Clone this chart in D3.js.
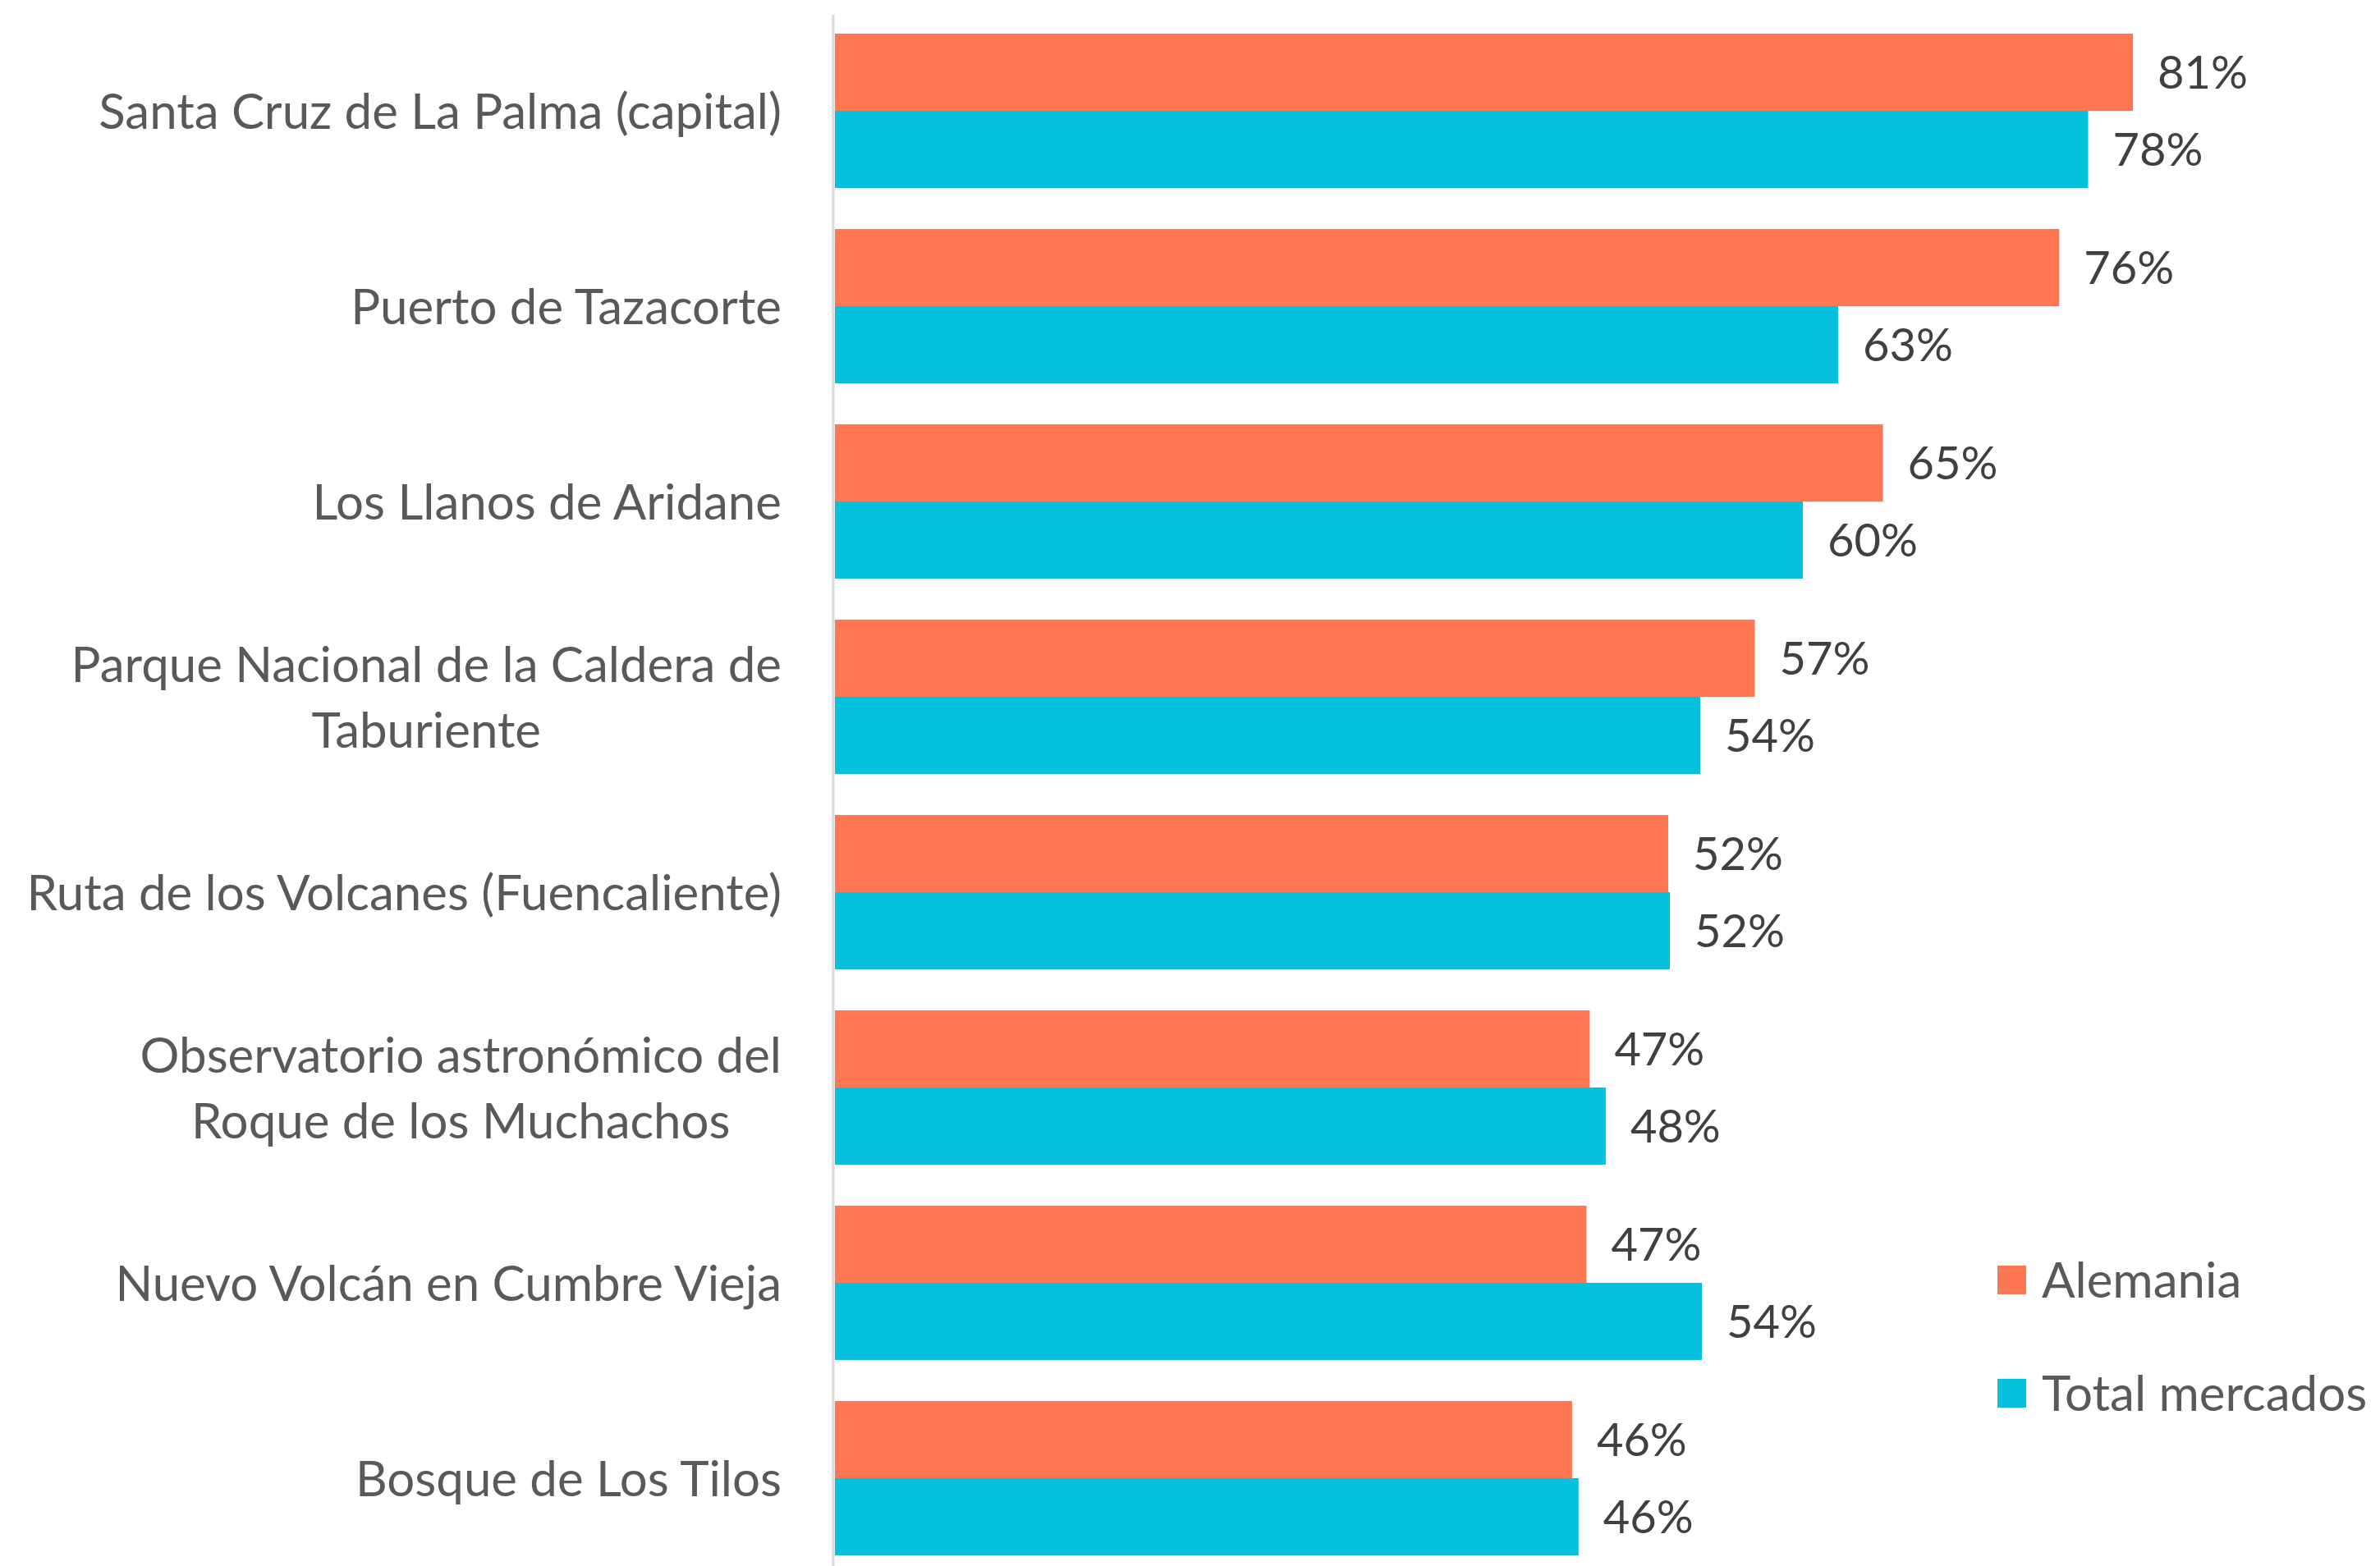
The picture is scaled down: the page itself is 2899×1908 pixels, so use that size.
<!DOCTYPE html>
<html>
<head>
<meta charset="utf-8">
<script src="https://cdn.jsdelivr.net/npm/d3@7"></script>
<style>
  body { margin: 0; background: #fff; }
  text { font-family: Lato, "Noto Sans", sans-serif; }
</style>
</head>
<body>
<script>
// categories (multi-line labels split with "|")
var categories = [
  "Santa Cruz de La Palma (capital)",
  "Puerto de Tazacorte",
  "Los Llanos de Aridane",
  "Parque Nacional de la Caldera de|Taburiente",
  "Ruta de los Volcanes (Fuencaliente)",
  "Observatorio astronómico del|Roque de los Muchachos",
  "Nuevo Volcán en Cumbre Vieja",
  "Bosque de Los Tilos"
];
// series values, percent
var alemania = [81, 76.4, 65.4, 57.4, 52, 47.1, 46.9, 46];
var totalMercados = [78.2, 62.6, 60.4, 54, 52.1, 48.1, 54.1, 46.4];
var seriesNames = ["Alemania", "Total mercados"];
var colors = ["#FF7752", "#05C1DE"];

var width = 2899,
    height = 1908;

var svg = d3.select("body").append("svg")
  .attr("width", width)
  .attr("height", height);

var x = d3.scaleLinear().domain([0, 100]).range([1017, 2969]);

var y = d3.scaleBand()
  .domain(categories)
  .range([16, 1920])
  .paddingInner(0.21)
  .paddingOuter(0.105);

var sub = d3.scaleBand()
  .domain([0, 1])
  .range([0, y.bandwidth()]);

var rows = categories.map(function(c, i){
  return {cat: c, vals: [alemania[i], totalMercados[i]]};
});

var fmt = function(v){ return Math.round(v) + "%"; };

var group = svg.selectAll("g.row").data(rows).enter().append("g")
  .attr("class", "row")
  .attr("transform", function(d){ return "translate(0," + y(d.cat) + ")"; });

group.selectAll("rect").data(function(d){ return d.vals; }).enter().append("rect")
  .attr("x", x(0))
  .attr("y", function(d, i){ return sub(i); })
  .attr("width", function(d){ return x(d) - x(0); })
  .attr("height", sub.bandwidth())
  .attr("fill", function(d, i){ return colors[i]; });

// value labels
group.selectAll("text.val").data(function(d){ return d.vals; }).enter().append("text")
  .attr("class", "val")
  .attr("x", function(d){ return x(d) + 30; })
  .attr("y", function(d, i){ return sub(i) + sub.bandwidth() / 2; })
  .attr("dy", "0.36em")
  .attr("font-size", 56)
  .attr("fill", "#404040")
  .text(fmt);

// category labels, centered lines, right edge at 952
group.each(function(d){
  var lines = d.cat.split("|");
  var t = d3.select(this).append("text")
    .attr("font-size", 60)
    .attr("fill", "#595959")
    .attr("text-anchor", "end");
  var lh = 80;
  var mid = y.bandwidth() / 2;
  lines.forEach(function(l, k){
    t.append("tspan")
      .attr("x", 952)
      .attr("y", mid + (k - (lines.length - 1) / 2) * lh)
      .attr("dy", "0.36em")
      .text(l);
  });
  if (lines.length > 1) {
    // center lines over the widest one
    var tsp = t.selectAll("tspan").nodes();
    var widths = tsp.map(function(n){ return n.getComputedTextLength(); });
    var maxW = d3.max(widths);
    tsp.forEach(function(n, k){
      d3.select(n).attr("x", 952 - (maxW - widths[k]) / 2);
    });
  }
});

// axis line
svg.append("line")
  .attr("x1", x(0) - 2).attr("x2", x(0) - 2)
  .attr("y1", 18).attr("y2", height)
  .attr("stroke", "#D9D9D9")
  .attr("stroke-width", 3);

// legend
var legend = svg.selectAll("g.legend").data(seriesNames).enter().append("g")
  .attr("class", "legend")
  .attr("transform", function(d, i){ return "translate(2433," + (1542 + i * 138) + ")"; });

legend.append("rect")
  .attr("width", 35).attr("height", 35)
  .attr("fill", function(d, i){ return colors[i]; });

legend.append("text")
  .attr("x", 54)
  .attr("y", 17.5)
  .attr("dy", "0.36em")
  .attr("font-size", 60)
  .attr("fill", "#595959")
  .text(function(d){ return d; });
</script>
</body>
</html>
